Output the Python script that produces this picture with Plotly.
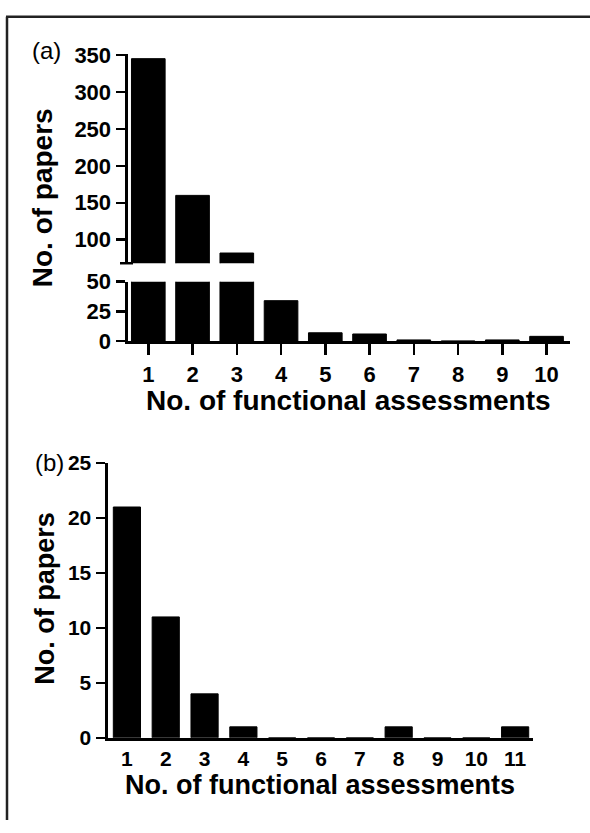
import plotly.graph_objects as go

W, H = 590, 833

# Panel (a)
a_categories = [1, 2, 3, 4, 5, 6, 7, 8, 9, 10]
a_papers = [345, 160, 82, 34, 7, 6, 1, 0, 1, 4]
a_upper_ticks = [100, 150, 200, 250, 300, 350]
a_lower_ticks = [0, 25, 50]

# Panel (b)
b_categories = [1, 2, 3, 4, 5, 6, 7, 8, 9, 10, 11]
b_papers = [21, 11, 4, 1, 0, 0, 0, 1, 0, 0, 1]
b_ticks = [0, 5, 10, 15, 20, 25]

FONT = "Liberation Sans, Arial, sans-serif"


def px(x):
    return x / W


def py(y):
    return 1 - y / H


fig = go.Figure()

bar_style = dict(marker=dict(color="black", line=dict(color="black", width=1)),
                 showlegend=False, hoverinfo="skip")

# (a) lower segment
fig.add_trace(go.Bar(x=a_categories, y=a_papers, width=0.76,
                     xaxis="x", yaxis="y", **bar_style))
# (a) upper segment
fig.add_trace(go.Bar(x=a_categories, y=a_papers, width=0.76,
                     xaxis="x2", yaxis="y2", **bar_style))
# (b)
fig.add_trace(go.Bar(x=b_categories, y=b_papers, width=0.70,
                     xaxis="x3", yaxis="y3", **bar_style))

axis_common = dict(showgrid=False, zeroline=False, showline=True,
                   linecolor="black", linewidth=3,
                   tickcolor="black", tickwidth=2.5, fixedrange=True)

a_dom_x = [px(127.5), px(570)]
a_xrange = [0.53, 10.53]

fig.update_layout(
    width=W, height=H,
    margin=dict(l=0, r=0, t=0, b=0),
    paper_bgcolor="white", plot_bgcolor="white",
    font=dict(family=FONT, color="black"),
    bargap=0,
    xaxis=dict(domain=a_dom_x, range=a_xrange, anchor="y",
               tickmode="array", tickvals=a_categories,
               ticktext=[str(c) for c in a_categories],
               ticks="outside", ticklen=11,
               tickfont=dict(size=22, family=FONT, weight="bold"),
               **axis_common),
    yaxis=dict(domain=[py(339.3), py(278)], range=[0, 50], anchor="x",
               tickmode="array", tickvals=a_lower_ticks,
               ticks="outside", ticklen=9,
               tickfont=dict(size=22, family=FONT, weight="bold"),
               **axis_common),
    xaxis2=dict(domain=a_dom_x, range=a_xrange, anchor="y2",
                visible=False, fixedrange=True),
    yaxis2=dict(domain=[py(259), py(43.3)], range=[68.2, 351.3], anchor="x2",
                tickmode="array", tickvals=a_upper_ticks,
                ticks="outside", ticklen=9,
                tickfont=dict(size=22, family=FONT, weight="bold"),
                **axis_common),
    xaxis3=dict(domain=[px(107.5), px(533)], range=[0.5, 11.46], anchor="y3",
                tickmode="array", tickvals=b_categories,
                ticktext=[str(c) for c in b_categories],
                ticks="", ticklen=0,
                tickfont=dict(size=21, family=FONT, weight="bold"),
                **axis_common),
    yaxis3=dict(domain=[py(748.3), py(465)], range=[0, 25], anchor="x3",
                tickmode="array", tickvals=b_ticks,
                ticks="outside", ticklen=9,
                tickfont=dict(size=21, family=FONT, weight="bold"),
                **axis_common),
)

ann = []


def add_text(text, x, y, size, bold=False, angle=0):
    ann.append(dict(text=text, x=px(x), y=py(y), xref="paper", yref="paper",
                    xanchor="center", yanchor="middle", showarrow=False,
                    textangle=angle,
                    font=dict(size=size, family=FONT, color="black",
                              weight="bold" if bold else "normal")))


add_text("(a)", 46, 40, 24)
add_text("(b)", 49, 464, 24)
add_text("No. of papers", 42.5, 191.5, 28, bold=True, angle=-90)
add_text("No. of papers", 45, 605, 27, bold=True, angle=-90)
add_text("No. of functional assessments", 348, 401, 28, bold=True)
add_text("No. of functional assessments", 320, 797, 27, bold=True)

fig.update_layout(annotations=ann)

shapes = [
    # frame (top and left edges)
    dict(type="line", xref="paper", yref="paper", x0=px(6), x1=1, y0=py(5), y1=py(5),
         line=dict(color="#222", width=2.5)),
    dict(type="line", xref="paper", yref="paper", x0=px(7), x1=px(7), y0=py(5), y1=0,
         line=dict(color="#222", width=2.5)),
    # axis break cap on upper segment
    dict(type="line", xref="paper", yref="paper", x0=px(120), x1=px(133),
         y0=py(259), y1=py(259), line=dict(color="black", width=2.5)),
]
fig.update_layout(shapes=shapes)

fig.write_html(
    "out.html",
    config={"displayModeBar": False, "staticPlot": True},
    post_script="document.body.style.margin='0';document.body.style.overflow='hidden';"
                "document.documentElement.style.overflow='hidden';",
)
